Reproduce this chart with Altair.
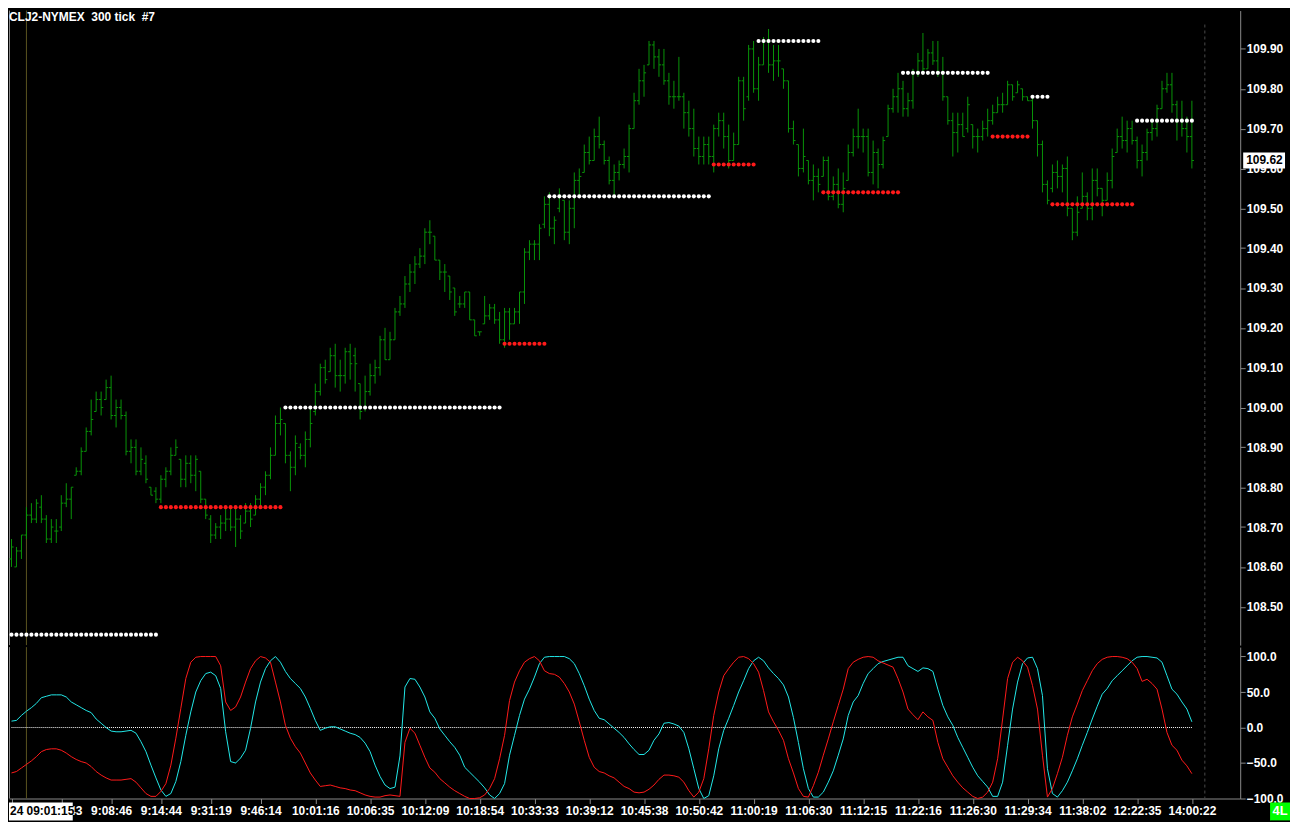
import altair as alt
import pandas as pd

# ---- bars: 300-tick OHLC, CLJ2 ----
hi = [108.67,108.65,108.68,108.75,108.76,108.77,108.78,108.73,108.72,108.72,
      108.78,108.81,108.80,108.85,108.90,108.95,109.02,109.04,109.04,109.07,
      109.08,109.02,109.02,108.99,108.92,108.92,108.90,108.88,108.80,108.80,
      108.83,108.85,108.90,108.92,108.87,108.88,108.88,108.88,108.84,108.77,
      108.73,108.71,108.73,108.75,108.75,108.75,108.73,108.76,108.76,108.78,
      108.81,108.84,108.90,108.98,109.00,108.96,108.89,108.93,108.91,108.94,
      109.00,109.06,109.11,109.12,109.15,109.16,109.12,109.15,109.16,109.15,
      109.06,109.08,109.11,109.12,109.18,109.20,109.19,109.25,109.28,109.33,
      109.36,109.38,109.40,109.45,109.47,109.43,109.37,109.36,109.33,109.30,
      109.28,109.29,109.29,109.22,109.19,109.28,109.26,109.26,109.24,109.25,
      109.25,109.25,109.29,109.40,109.42,109.42,109.46,109.53,109.54,109.48,
      109.55,109.52,109.52,109.59,109.60,109.66,109.68,109.70,109.73,109.67,
      109.63,109.61,109.62,109.65,109.71,109.79,109.85,109.86,109.92,109.92,
      109.90,109.90,109.84,109.82,109.88,109.79,109.77,109.75,109.68,109.68,
      109.68,109.71,109.74,109.74,109.71,109.69,109.83,109.83,109.91,109.92,
      109.88,109.93,109.95,109.91,109.91,109.85,109.82,109.72,109.66,109.70,
      109.62,109.61,109.60,109.63,109.63,109.58,109.60,109.59,109.66,109.70,
      109.75,109.70,109.70,109.67,109.65,109.68,109.76,109.80,109.84,109.82,
      109.79,109.85,109.89,109.94,109.90,109.92,109.92,109.88,109.78,109.74,
      109.74,109.74,109.78,109.71,109.70,109.72,109.75,109.76,109.78,109.79,
      109.82,109.81,109.82,109.80,109.78,109.78,109.72,109.67,109.57,109.61,
      109.62,109.61,109.63,109.50,109.53,109.59,109.54,109.60,109.60,109.55,
      109.59,109.65,109.70,109.73,109.72,109.72,109.68,109.66,109.70,109.72,
      109.76,109.82,109.84,109.84,109.77,109.77,109.73,109.77]
lo = [108.60,108.60,108.62,108.67,108.71,108.71,108.71,108.66,108.66,108.66,
      108.69,108.75,108.72,108.83,108.83,108.89,108.93,108.99,108.98,109.02,
      108.97,108.95,108.97,108.88,108.86,108.83,108.83,108.81,108.78,108.76,
      108.76,108.80,108.83,108.88,108.80,108.80,108.81,108.79,108.76,108.72,
      108.66,108.67,108.67,108.69,108.69,108.65,108.67,108.71,108.70,108.73,
      108.75,108.78,108.82,108.88,108.93,108.86,108.79,108.83,108.87,108.85,
      108.90,108.98,109.03,109.06,109.09,109.05,109.04,109.06,109.07,109.04,
      108.97,108.99,109.03,109.06,109.08,109.12,109.12,109.17,109.23,109.25,
      109.29,109.31,109.35,109.36,109.41,109.37,109.32,109.29,109.27,109.23,
      109.25,109.25,109.22,109.18,109.18,109.21,109.22,109.21,109.16,109.15,
      109.17,109.21,109.21,109.26,109.37,109.37,109.37,109.45,109.43,109.41,
      109.49,109.42,109.41,109.45,109.53,109.59,109.61,109.62,109.65,109.61,
      109.56,109.53,109.57,109.60,109.59,109.70,109.76,109.78,109.86,109.85,
      109.83,109.81,109.76,109.75,109.77,109.70,109.68,109.63,109.61,109.61,
      109.61,109.59,109.68,109.65,109.60,109.62,109.66,109.72,109.77,109.79,
      109.77,109.86,109.84,109.82,109.83,109.80,109.69,109.66,109.58,109.59,
      109.56,109.52,109.54,109.58,109.52,109.52,109.50,109.49,109.57,109.63,
      109.65,109.64,109.58,109.56,109.55,109.60,109.68,109.74,109.74,109.73,
      109.73,109.75,109.83,109.84,109.85,109.86,109.83,109.77,109.71,109.63,
      109.64,109.68,109.69,109.65,109.64,109.67,109.68,109.71,109.74,109.74,
      109.76,109.77,109.79,109.77,109.77,109.70,109.63,109.54,109.51,109.54,
      109.55,109.54,109.48,109.42,109.43,109.50,109.47,109.47,109.53,109.48,
      109.52,109.55,109.64,109.65,109.64,109.66,109.60,109.58,109.62,109.67,
      109.68,109.75,109.79,109.74,109.67,109.68,109.64,109.60]
op = [108.62,108.60,108.64,108.68,108.73,108.72,108.75,108.72,108.67,108.69,
      108.70,108.76,108.77,108.83,108.84,108.89,108.94,108.99,109.02,109.02,
      109.05,108.98,109.00,108.98,108.89,108.90,108.84,108.86,108.80,108.79,
      108.77,108.82,108.84,108.88,108.87,108.82,108.86,108.83,108.84,108.77,
      108.72,108.68,108.70,108.71,108.72,108.70,108.72,108.71,108.74,108.73,
      108.77,108.80,108.83,108.88,108.96,108.96,108.88,108.85,108.90,108.88,
      108.92,108.99,109.04,109.10,109.09,109.13,109.08,109.08,109.14,109.13,
      109.06,109.00,109.04,109.08,109.10,109.17,109.12,109.17,109.24,109.26,
      109.31,109.34,109.36,109.38,109.44,109.43,109.37,109.34,109.33,109.30,
      109.26,109.26,109.29,109.22,109.19,109.21,109.23,109.25,109.22,109.17,
      109.24,109.21,109.24,109.29,109.39,109.41,109.41,109.46,109.51,109.45,
      109.50,109.52,109.44,109.50,109.57,109.59,109.64,109.62,109.68,109.66,
      109.62,109.57,109.59,109.61,109.63,109.70,109.77,109.82,109.86,109.91,
      109.88,109.86,109.82,109.78,109.78,109.78,109.74,109.70,109.65,109.63,
      109.66,109.63,109.70,109.72,109.68,109.62,109.66,109.82,109.78,109.90,
      109.80,109.86,109.92,109.86,109.87,109.85,109.82,109.70,109.66,109.60,
      109.62,109.57,109.58,109.58,109.62,109.53,109.56,109.51,109.57,109.64,
      109.68,109.68,109.68,109.59,109.64,109.61,109.68,109.75,109.78,109.80,
      109.75,109.77,109.84,109.87,109.85,109.89,109.87,109.84,109.78,109.72,
      109.69,109.71,109.70,109.71,109.68,109.68,109.70,109.72,109.74,109.76,
      109.76,109.81,109.79,109.80,109.78,109.77,109.72,109.66,109.56,109.55,
      109.59,109.58,109.60,109.50,109.44,109.50,109.53,109.50,109.57,109.55,
      109.52,109.57,109.64,109.68,109.67,109.70,109.67,109.62,109.64,109.69,
      109.70,109.75,109.80,109.81,109.76,109.72,109.70,109.68]
cl = [108.65,108.64,108.68,108.73,108.72,108.76,108.72,108.67,108.70,108.69,
      108.76,108.77,108.80,108.84,108.89,108.94,108.97,109.02,109.00,109.05,
      108.98,109.00,108.98,108.89,108.90,108.84,108.87,108.82,108.78,108.77,
      108.82,108.84,108.88,108.90,108.82,108.86,108.83,108.87,108.77,108.73,
      108.68,108.70,108.71,108.72,108.70,108.72,108.69,108.74,108.72,108.77,
      108.80,108.83,108.88,108.96,108.97,108.88,108.85,108.91,108.88,108.92,
      108.96,109.04,109.10,109.07,109.13,109.08,109.08,109.14,109.11,109.11,
      108.99,109.04,109.08,109.10,109.17,109.12,109.17,109.24,109.26,109.31,
      109.34,109.36,109.38,109.44,109.44,109.37,109.34,109.34,109.29,109.24,
      109.26,109.29,109.22,109.18,109.19,109.23,109.25,109.22,109.17,109.24,
      109.21,109.24,109.29,109.39,109.41,109.41,109.45,109.51,109.45,109.47,
      109.53,109.44,109.50,109.57,109.58,109.64,109.62,109.68,109.66,109.62,
      109.57,109.59,109.61,109.63,109.70,109.77,109.82,109.84,109.91,109.88,
      109.86,109.82,109.78,109.78,109.78,109.74,109.70,109.65,109.63,109.66,
      109.63,109.70,109.72,109.68,109.62,109.66,109.82,109.75,109.90,109.80,
      109.86,109.92,109.86,109.87,109.87,109.82,109.70,109.67,109.60,109.63,
      109.57,109.58,109.56,109.62,109.53,109.56,109.51,109.55,109.64,109.68,
      109.68,109.68,109.59,109.64,109.61,109.67,109.75,109.78,109.80,109.75,
      109.77,109.84,109.87,109.85,109.89,109.87,109.84,109.78,109.72,109.69,
      109.71,109.68,109.76,109.68,109.68,109.70,109.72,109.74,109.76,109.76,
      109.81,109.78,109.81,109.78,109.77,109.72,109.66,109.56,109.52,109.59,
      109.58,109.60,109.50,109.44,109.49,109.53,109.50,109.57,109.55,109.52,
      109.57,109.63,109.68,109.67,109.70,109.67,109.62,109.64,109.69,109.70,
      109.75,109.80,109.81,109.76,109.72,109.70,109.68,109.62]

# ---- oscillator (two lines, -100..100) ----
osc_fast = [9,10,17,23,28,34,42,44,46,46,
            46,43,36,32,28,24,21,12,6,0,
            -5,-6,-6,-5,-4,-8,-20,-34,-53,-71,
            -88,-97,-93,-76,-48,-11,22,50,66,76,
            78,73,55,-6,-48,-50,-43,-32,-1,36,
            64,83,94,100,92,79,69,62,55,43,
            27,10,-4,-1,1,1,-2,-5,-8,-10,
            -14,-22,-34,-53,-69,-81,-86,-84,-40,57,
            69,68,57,43,22,13,-2,-11,-20,-28,
            -39,-56,-63,-70,-77,-85,-95,-100,-93,-79,
            -39,-11,17,40,54,71,90,99,100,100,
            100,100,97,90,76,59,40,24,13,11,
            5,-1,-7,-14,-23,-31,-38,-38,-32,-18,
            -9,6,7,5,2,-7,-30,-58,-86,-100,
            -96,-68,-30,-4,13,31,50,66,83,94,
            99,94,84,76,69,60,43,14,-21,-58,
            -86,-98,-98,-91,-77,-61,-39,-16,17,36,
            45,62,76,83,90,93,95,97,99,99,
            87,83,79,84,83,79,54,31,15,3,
            -14,-28,-42,-56,-68,-76,-84,-97,-97,-77,
            -25,26,64,90,98,99,83,45,-58,-93,
            -98,-89,-77,-61,-44,-25,-7,12,30,47,
            55,66,73,80,87,94,99,100,100,99,
            98,92,73,54,47,36,26,8]
osc_slow = [-64,-62,-57,-52,-47,-41,-34,-31,-30,-30,
            -32,-36,-41,-45,-48,-50,-55,-62,-67,-71,
            -74,-74,-74,-73,-72,-77,-85,-93,-97,-97,
            -90,-79,-53,-15,27,69,92,99,100,100,
            100,100,87,36,24,29,43,64,83,94,
            100,98,92,64,36,3,-15,-27,-36,-50,
            -64,-74,-83,-82,-81,-83,-85,-86,-88,-89,
            -92,-95,-97,-98,-98,-96,-95,-96,-97,-21,
            -1,-8,-25,-42,-57,-63,-72,-78,-84,-89,
            -93,-97,-100,-100,-99,-95,-86,-72,-44,-11,
            38,64,80,92,97,100,94,80,76,75,
            71,62,50,33,8,-18,-42,-56,-62,-64,
            -68,-71,-77,-83,-86,-91,-92,-91,-87,-81,
            -73,-67,-67,-68,-70,-77,-89,-98,-91,-72,
            -30,17,50,73,83,92,99,100,97,90,
            78,52,22,8,-4,-18,-44,-64,-86,-97,
            -98,-82,-63,-39,-16,8,31,54,83,92,
            96,99,100,99,94,91,88,85,69,50,
            26,18,11,22,15,10,-21,-44,-56,-68,
            -77,-85,-91,-97,-100,-98,-91,-77,-44,12,
            69,92,99,94,85,59,26,-39,-98,-86,
            -65,-42,-11,15,33,52,66,80,90,96,
            99,100,100,99,97,92,83,65,68,62,
            54,26,-7,-25,-32,-46,-54,-65]

# ---- swing levels (dotted) ----
lvl_start = [0, 30, 55, 99, 108, 141, 150, 163, 179, 197, 205, 209, 226]
lvl_end = [29, 54, 98, 107, 140, 149, 162, 178, 196, 204, 208, 225, 237]
lvl_price = [108.43, 108.75, 109.00, 109.16, 109.53, 109.61, 109.92, 109.54,
             109.84, 109.68, 109.78, 109.51, 109.72]
lvl_kind = ["high", "low", "high", "low", "high", "low", "high", "low",
            "high", "low", "high", "low", "high"]

# ---- axis text ----
price_ticks = [108.40, 108.50, 108.60, 108.70, 108.80, 108.90, 109.00, 109.10,
               109.20, 109.30, 109.40, 109.50, 109.60, 109.70, 109.80, 109.90, 110.00]
osc_ticks = [-100, -50, 0, 50, 100]
tick_bars = [0, 10, 20, 30, 40, 50, 61, 72, 83, 94, 105, 116, 127, 138, 149,
             160, 171, 182, 193, 204, 215, 226, 237]
tick_labels = ["", "9:01:43", "9:08:46", "9:14:44", "9:31:19", "9:46:14", "10:01:16",
               "10:06:35", "10:12:09", "10:18:54", "10:33:33", "10:39:12", "10:45:38",
               "10:50:42", "11:00:19", "11:06:30", "11:12:15", "11:22:16", "11:26:30",
               "11:29:34", "11:38:02", "12:22:35", "14:00:22"]
title_text = "CLJ2-NYMEX\u00a0\u00a0300 tick\u00a0\u00a0#7"
start_stamp = "24\u00a009:01:15"
mode_tag = "4L"
session_bar = 3
end_marker_bar = 239.6

FONT = "Liberation Sans"
GREEN = "#089408"
GRAY = "#8a8a8a"
W, H1, H2 = 1236, 637, 152

n = len(hi)
bars = pd.DataFrame({"i": list(range(n)), "hi": hi, "lo": lo, "op": op, "cl": cl})
osc = pd.DataFrame({"i": list(range(n)), "fast": osc_fast, "slow": osc_slow})
dots = pd.DataFrame([
    {"i": b, "p": p, "k": k}
    for s, e, p, k in zip(lvl_start, lvl_end, lvl_price, lvl_kind)
    for b in range(s, e + 1)
])

xs = alt.Scale(domain=[-0.5, 246.7], nice=False, zero=False)
ys = alt.Scale(domain=[108.40375, 109.99625], nice=False, zero=False)
os_ = alt.Scale(domain=[-100, 113.3], nice=False, zero=False)

price_axis = alt.Axis(orient="right", values=price_ticks, format=".2f", title=None,
                      grid=False, labelColor="white", labelFont=FONT,
                      labelFontWeight="bold", labelFontSize=12, tickColor=GRAY,
                      tickSize=5, domainColor=GRAY, labelPadding=1)
osc_axis = alt.Axis(orient="right", values=osc_ticks, format=".1f", title=None,
                    grid=False, labelColor="white", labelFont=FONT,
                    labelFontWeight="bold", labelFontSize=12, tickColor=GRAY,
                    tickSize=5, domainColor=GRAY, labelPadding=1)

label_expr = "''"
for b, t in reversed(list(zip(tick_bars, tick_labels))):
    label_expr = f"datum.value == {b} ? '{t}' : ({label_expr})"
time_axis = alt.Axis(values=tick_bars, labelExpr=label_expr, title=None, grid=False,
                     labelColor="white", labelFont=FONT, labelFontWeight="bold",
                     labelFontSize=12, tickColor=GRAY, tickSize=5, domainColor=GRAY,
                     labelPadding=2, labelOverlap=False, labelFlush=False)


def px(f):
    return alt.X(f, type="quantitative", scale=xs, axis=None)


def py(f):
    return alt.Y(f, type="quantitative", scale=ys, axis=price_axis)


# ---- price panel ----
rng = alt.Chart(bars).mark_rule(color=GREEN, strokeWidth=1).encode(
    x=px("i"), y=py("lo"), y2="hi:Q")
opn = alt.Chart(bars).transform_calculate(a="datum.i - 0.42").mark_rule(
    color=GREEN, strokeWidth=1).encode(x=px("a"), x2="i:Q", y=py("op"))
cls = alt.Chart(bars).transform_calculate(b="datum.i + 0.42").mark_rule(
    color=GREEN, strokeWidth=1).encode(x=px("i"), x2="b:Q", y=py("cl"))
lvl = alt.Chart(dots).mark_circle(size=17, opacity=1).encode(
    x=px("i"), y=py("p"),
    color=alt.Color("k:N", scale=alt.Scale(domain=["high", "low"],
                                           range=["#ffffff", "#ff1a1a"]), legend=None))

sess = pd.DataFrame({"s": [session_bar], "e": [end_marker_bar]})
sess_p = alt.Chart(sess).mark_rule(color="#5a5420", strokeWidth=1).encode(
    x=px("s"), y=alt.value(0), y2=alt.value(H1))
end_p = alt.Chart(sess).mark_rule(color="#4a4a4a", strokeWidth=1, strokeDash=[3, 3]).encode(
    x=px("e"), y=alt.value(14), y2=alt.value(H1))
edge_p = alt.Chart(sess).mark_rule(color=GRAY, strokeWidth=1).encode(
    x=alt.value(0.5), y=alt.value(0), y2=alt.value(H1))

title = alt.Chart(pd.DataFrame({"t": [title_text]})).mark_text(
    align="left", baseline="top", font=FONT, fontWeight="bold", fontSize=12,
    color="white").encode(x=alt.value(0), y=alt.value(1), text="t:N")

last = pd.DataFrame({"p": [cl[-1]]})
last_box = alt.Chart(last).transform_calculate(
    t="datum.p + 0.02", b="datum.p - 0.02").mark_rect(color="white").encode(
    x=alt.value(W + 3), x2=alt.value(W + 45), y=py("t"), y2="b:Q")
last_txt = alt.Chart(last).transform_calculate(s="format(datum.p, '.2f')").mark_text(
    align="left", baseline="middle", font=FONT, fontWeight="bold", fontSize=12,
    color="black").encode(x=alt.value(W + 6), y=py("p"), text="s:N")

price = alt.layer(sess_p, end_p, edge_p, rng, opn, cls, lvl, title,
                  last_box, last_txt).properties(width=W, height=H1)

# ---- oscillator panel ----
def ox(f):
    return alt.X(f, type="quantitative", scale=xs, axis=time_axis)


def oy(f):
    return alt.Y(f, type="quantitative", scale=os_, axis=osc_axis)


zero = alt.Chart(pd.DataFrame({"a": [0], "b": [n - 1], "v": [0]})).mark_rule(
    color="white", strokeWidth=1, strokeDash=[1, 1]).encode(x=ox("a"), x2="b:Q", y=oy("v"))
fast = alt.Chart(osc).mark_line(color="#22e8e8", strokeWidth=1).encode(x=ox("i"), y=oy("fast"))
slow = alt.Chart(osc).mark_line(color="#ff1a1a", strokeWidth=1).encode(x=ox("i"), y=oy("slow"))
sess_o = alt.Chart(sess).mark_rule(color="#5a5420", strokeWidth=1).encode(
    x=ox("s"), y=alt.value(0), y2=alt.value(H2))
end_o = alt.Chart(sess).mark_rule(color="#4a4a4a", strokeWidth=1, strokeDash=[3, 3]).encode(
    x=ox("e"), y=alt.value(0), y2=alt.value(H2))
edge_o = alt.Chart(sess).mark_rule(color=GRAY, strokeWidth=1).encode(
    x=alt.value(0.5), y=alt.value(0), y2=alt.value(H2))

stamp = pd.DataFrame({"t": [start_stamp], "m": [mode_tag]})
stamp_box = alt.Chart(stamp).mark_rect(color="white").encode(
    x=alt.value(0), x2=alt.value(64), y=alt.value(H2 + 4), y2=alt.value(H2 + 22))
stamp_txt = alt.Chart(stamp).mark_text(
    align="left", baseline="middle", font=FONT, fontWeight="bold", fontSize=12,
    color="black").encode(x=alt.value(1), y=alt.value(H2 + 13), text="t:N")
mode_box = alt.Chart(stamp).mark_rect(color="#00ff00").encode(
    x=alt.value(W + 30), x2=alt.value(W + 50), y=alt.value(H2 + 4), y2=alt.value(H2 + 22))
mode_txt = alt.Chart(stamp).mark_text(
    align="center", baseline="middle", font=FONT, fontWeight="bold", fontSize=13,
    color="white").encode(x=alt.value(W + 40), y=alt.value(H2 + 13), text="m:N")

oscp = alt.layer(sess_o, end_o, edge_o, zero, fast, slow, stamp_box, stamp_txt,
                 mode_box, mode_txt).properties(width=W, height=H2)

chart = alt.vconcat(price, oscp, spacing=0).properties(
    background="black", padding=0
).configure_view(stroke=None)

chart.save("out.html", embed_options={"renderer": "svg", "actions": False})
